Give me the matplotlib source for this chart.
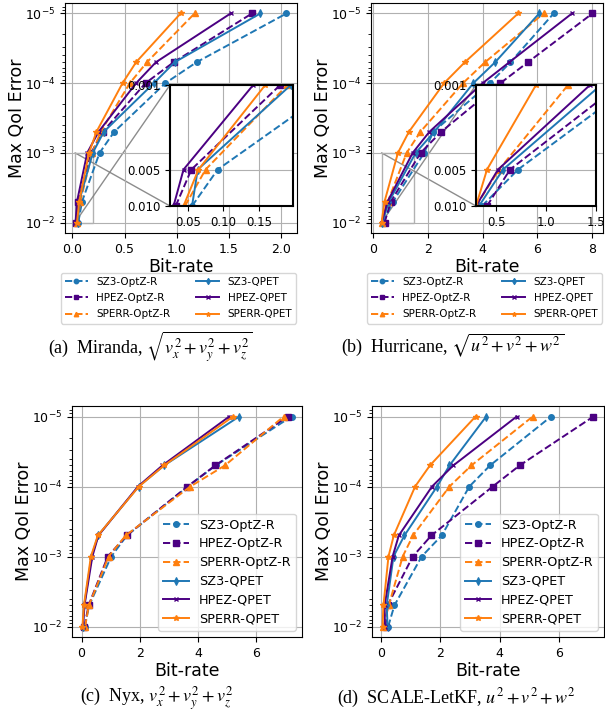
import matplotlib
matplotlib.use("Agg")
import matplotlib.pyplot as plt
from matplotlib.patches import Rectangle, ConnectionPatch
from matplotlib.ticker import FixedLocator, FixedFormatter, NullLocator

plt.rcParams['mathtext.fontset'] = 'stix'

# error bounds used for every run (y axis)
error_bounds = [1e-2, 5e-3, 1e-3, 5e-4, 1e-4, 5e-5, 1e-5]
labels = ['SZ3-OptZ-R', 'HPEZ-OptZ-R', 'SPERR-OptZ-R', 'SZ3-QPET', 'HPEZ-QPET', 'SPERR-QPET']

# bit-rates, Miranda
miranda_sz3_optz = [0.056, 0.092, 0.26, 0.40, 0.89, 1.19, 2.05]
miranda_hpez_optz = [0.033, 0.055, 0.18, 0.29, 0.70, 0.97, 1.72]
miranda_sperr_optz = [0.046, 0.075, 0.19, 0.27, 0.55, 0.714, 1.17]
miranda_sz3_qpet = [0.056, 0.064, 0.195, 0.30, 0.78, 0.98, 1.80]
miranda_hpez_qpet = [0.030, 0.044, 0.142, 0.25, 0.61, 0.80, 1.515]
miranda_sperr_qpet = [0.044, 0.065, 0.159, 0.23, 0.48, 0.61, 1.036]

# bit-rates, Hurricane
hurricane_sz3_optz = [0.36, 0.72, 1.86, 2.19, 4.27, 5.02, 6.60]
hurricane_hpez_optz = [0.41, 0.64, 1.73, 2.48, 4.65, 5.66, 8.02]
hurricane_sperr_optz = [0.30, 0.53, 1.22, 1.72, 3.28, 4.09, 6.23]
hurricane_sz3_qpet = [0.33, 0.57, 1.55, 2.23, 3.66, 4.46, 6.07]
hurricane_hpez_qpet = [0.30, 0.52, 1.44, 2.05, 4.00, 4.98, 7.27]
hurricane_sperr_qpet = [0.30, 0.41, 0.90, 1.30, 2.59, 3.35, 5.30]

# bit-rates, Nyx
nyx_sz3_optz = [0.11, 0.26, 1.02, 1.56, 3.66, 4.61, 7.22]
nyx_hpez_optz = [0.10, 0.24, 0.90, 1.55, 3.64, 4.60, 7.09]
nyx_sperr_optz = [0.12, 0.25, 0.93, 1.52, 3.74, 4.93, 6.95]
nyx_sz3_qpet = [0.04, 0.09, 0.34, 0.57, 1.96, 2.84, 5.42]
nyx_hpez_qpet = [0.05, 0.10, 0.37, 0.58, 1.94, 2.78, 5.08]
nyx_sperr_qpet = [0.03, 0.08, 0.32, 0.56, 1.97, 2.84, 5.21]

# bit-rates, SCALE-LetKF
scale_sz3_optz = [0.24, 0.45, 1.37, 2.05, 2.98, 3.68, 5.74]
scale_hpez_optz = [0.15, 0.22, 1.07, 1.70, 3.77, 4.68, 7.17]
scale_sperr_optz = [0.08, 0.26, 0.73, 1.08, 2.31, 3.05, 5.12]
scale_sz3_qpet = [0.22, 0.19, 0.42, 0.79, 1.89, 2.31, 3.55]
scale_hpez_qpet = [0.13, 0.12, 0.39, 0.60, 1.72, 2.44, 4.58]
scale_sperr_qpet = [0.05, 0.08, 0.25, 0.43, 1.15, 1.65, 3.19]

blue, purple, orange = '#1f77b4', '#4b0082', '#ff7f0e'
styles = [
    dict(color=blue, ls='--', marker='o', ms=4),
    dict(color=purple, ls='--', marker='s', ms=4),
    dict(color=orange, ls='--', marker='^', ms=4),
    dict(color=blue, ls='-', marker='d', ms=4, mew=0.8),
    dict(color=purple, ls='-', marker='x', ms=3, mew=1),
    dict(color=orange, ls='-', marker='*', ms=4),
]

W, H = 605, 715


def px(l, t, r, b):
    return [l / W, 1 - b / H, (r - l) / W, (b - t) / H]


def draw_lines(ax, series):
    for s, lab, st in zip(series, labels, styles):
        ax.plot(s, error_bounds, lw=1.4, label=lab, **st)


def make_panel(fig, rect, series, xticks):
    ax = fig.add_axes(px(*rect))
    draw_lines(ax, series)
    ax.set_yscale('log')
    ax.invert_yaxis()
    ax.set_xticks(xticks)
    ax.grid(True, which='major', color='#b0b0b0', lw=0.8)
    ax.tick_params(labelsize=9)
    ax.set_xlabel('Bit-rate', fontsize=12.5, labelpad=2)
    ax.set_ylabel('Max QoI Error', fontsize=12.5, labelpad=-1)
    return ax


def add_inset(fig, ax, rect, series, xlim, xticks, xticklabels):
    ins = fig.add_axes(px(*rect))
    draw_lines(ins, series)
    ins.set_yscale('log')
    ins.set_xlim(xlim)
    ins.set_ylim(1e-2, 1e-3)
    ins.yaxis.set_major_locator(FixedLocator([1e-3, 5e-3, 1e-2]))
    ins.yaxis.set_major_formatter(FixedFormatter(['0.001', '0.005', '0.010']))
    ins.yaxis.set_minor_locator(NullLocator())
    ins.set_xticks(xticks)
    ins.set_xticklabels(xticklabels)
    ins.grid(True, color='#b0b0b0', lw=0.8)
    ins.tick_params(labelsize=8.5)
    for sp in ins.spines.values():
        sp.set_linewidth(1.5)
    # zoom box on the parent axes
    ax.add_patch(Rectangle((xlim[0], 1e-3), xlim[1] - xlim[0], 1e-2 - 1e-3,
                           fill=False, ec='0.5', alpha=0.6, lw=1, zorder=1.5))
    for xy_main, xy_ins in [((xlim[0], 1e-3), (0, 0)), ((xlim[0], 1e-2), (0, 1))]:
        con = ConnectionPatch(xyA=xy_main, coordsA=ax.transData,
                              xyB=xy_ins, coordsB=ins.transAxes,
                              color='0.5', lw=1, alpha=0.9)
        ax.add_artist(con)
    return ins


fig = plt.figure(figsize=(W / 100, H / 100), dpi=100)

miranda = [miranda_sz3_optz, miranda_hpez_optz, miranda_sperr_optz,
           miranda_sz3_qpet, miranda_hpez_qpet, miranda_sperr_qpet]
hurricane = [hurricane_sz3_optz, hurricane_hpez_optz, hurricane_sperr_optz,
             hurricane_sz3_qpet, hurricane_hpez_qpet, hurricane_sperr_qpet]
nyx = [nyx_sz3_optz, nyx_hpez_optz, nyx_sperr_optz,
       nyx_sz3_qpet, nyx_hpez_qpet, nyx_sperr_qpet]
scale = [scale_sz3_optz, scale_hpez_optz, scale_sperr_optz,
         scale_sz3_qpet, scale_hpez_qpet, scale_sperr_qpet]

leg_top = dict(loc='upper center', ncol=2, fontsize=7.5, columnspacing=2.5,
               handlelength=2.2, borderpad=0.4, labelspacing=0.6, markerscale=0.8)

ax_a = make_panel(fig, (65, 3, 297, 233), miranda, [0.0, 0.5, 1.0, 1.5, 2.0])
ax_a.legend(bbox_to_anchor=(0.49, -0.15), **leg_top)
add_inset(fig, ax_a, (170, 85, 293, 206), miranda, (0.025, 0.198),
          [0.05, 0.10, 0.15], ['0.05', '0.10', '0.15'])

ax_b = make_panel(fig, (371, 3, 603, 233), hurricane, [0, 2, 4, 6, 8])
ax_b.legend(bbox_to_anchor=(0.49, -0.15), **leg_top)
add_inset(fig, ax_b, (476, 85, 596, 206), hurricane, (0.3, 1.5),
          [0.5, 1.0, 1.5], ['0.5', '1.0', '1.5'])

ax_c = make_panel(fig, (72, 406, 302, 637), nyx, [0, 2, 4, 6])
ax_c.legend(loc='lower right', fontsize=9.2, labelspacing=0.45)

ax_d = make_panel(fig, (372, 406, 604, 637), scale, [0, 2, 4, 6])
ax_d.legend(loc='lower right', fontsize=9.2, labelspacing=0.45)

cap = dict(ha='center', va='center', fontsize=13, family='Liberation Serif')
fig.text(150 / W, 1 - 347 / H, r'(a)  Miranda, $\sqrt{v_x^2 + v_y^2 + v_z^2}$', **cap)
fig.text(453 / W, 1 - 345 / H, r'(b)  Hurricane, $\sqrt{u^2 + v^2 + w^2}$', **cap)
fig.text(157 / W, 1 - 698 / H, r'(c)  Nyx, $v_x^2 + v_y^2 + v_z^2$', **cap)
fig.text(456 / W, 1 - 698 / H, r'(d)  SCALE-LetKF, $u^2 + v^2 + w^2$', **cap)

fig.savefig('out.png', dpi=100)
